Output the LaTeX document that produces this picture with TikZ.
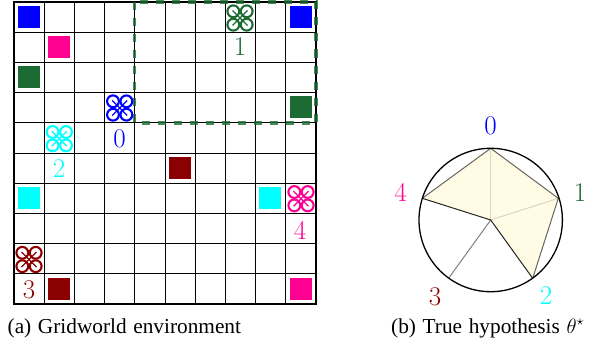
\documentclass[tikz,border=0pt]{standalone}
\usepackage{fontspec}
\setmainfont[WordSpace=1.25]{Liberation Serif}
\newfontfamily\lmfont{Latin Modern Roman}
\definecolor{agzero}{RGB}{0,0,255}
\definecolor{agone}{RGB}{27,107,51}
\definecolor{agtwo}{RGB}{0,255,255}
\definecolor{agthree}{RGB}{139,0,0}
\definecolor{agfour}{RGB}{255,0,144}
\definecolor{cream}{RGB}{255,251,228}
\tikzset{
  goalbox/.style={draw=none,minimum size=22pt,inner sep=0pt,fill=#1},
  numlabel/.style={text=#1,font=\lmfont\fontsize{27}{27}\selectfont,inner sep=0pt},
  captext/.style={font=\fontsize{21.3}{24}\selectfont,inner sep=0pt,anchor=base west},
  spoke/.style={line width=1pt,draw=black,draw opacity=#1},
}
\newcommand{\quadicon}[3]{%
  \begin{scope}[shift={(#1,#2)},draw=#3,line width=2.1pt]
    \foreach \sx in {-1,1}{\foreach \sy in {-1,1}{
      \draw (\sx*6.7,\sy*6.7) circle[radius=5.9];
      \draw[line width=1.3pt] (0,0) -- (\sx*7.5,\sy*7.5);
    }}
  \end{scope}}
\begin{document}
\begin{tikzpicture}[x=1pt,y=-1pt]
\useasboundingbox (0,0) rectangle (610,345);
% grid
\foreach \k in {1,...,9}{
  \draw[line width=1pt] ({14+30.2*\k},2) -- ({14+30.2*\k},304);
  \draw[line width=1pt] (14,{2+30.2*\k}) -- (316,{2+30.2*\k});
}
\draw[line width=2pt] (14,2) rectangle (316,304);
% goals
\node[goalbox=agzero] (g0a) at (29,17) {};
\node[goalbox=agzero] (g0b) at (301,17) {};
\node[goalbox=agfour] (g4a) at (59,47) {};
\node[goalbox=agfour] (g4b) at (301,289) {};
\node[goalbox=agone] (g1a) at (29,77) {};
\node[goalbox=agone] (g1b) at (301,107) {};
\node[goalbox=agthree] (g3a) at (180,168) {};
\node[goalbox=agthree] (g3b) at (59,289) {};
\node[goalbox=agtwo] (g2a) at (29,198) {};
\node[goalbox=agtwo] (g2b) at (270,198) {};
% dashed region
\draw[agone,opacity=.8,line width=3.5pt,dash pattern=on 8pt off 8pt] (134.5,2) rectangle (316,123);
% agents
\quadicon{119.7}{108}{agzero}
\quadicon{240}{18}{agone}
\quadicon{59.3}{138.7}{agtwo}
\quadicon{29}{259.5}{agthree}
\quadicon{301}{198.7}{agfour}
\node[numlabel=agzero] (a0) at (119.5,139) {0};
\node[numlabel=agone] (a1) at (240,47) {1};
\node[numlabel=agtwo] (a2) at (59,169) {2};
\node[numlabel=agthree] (a3) at (29,290) {3};
\node[numlabel=agfour] (a4) at (300,230) {4};
% hypothesis
\coordinate (c) at (490.7,220);
\coordinate (p0) at (490.7,148.3);
\coordinate (p1) at (558.3,198.3);
\coordinate (p2) at (532.7,278.3);
\coordinate (p3) at (449,277.7);
\coordinate (p4) at (422.3,198.3);
\fill[cream] (p0) -- (p1) -- (p2) -- (c) -- (p4) -- cycle;
\draw[spoke=.15] (c) -- (p0);
\draw[spoke=.15] (c) -- (p1);
\draw[spoke=.85] (c) -- (p2);
\draw[spoke=.5] (c) -- (p3);
\draw[spoke=.85] (c) -- (p4);
\draw[spoke=.6] (p0) -- (p1) -- (p2);
\draw[spoke=.6] (p0) -- (p4);
\draw[line width=1.3pt] (c) circle[radius=71.7];
\node[numlabel=agzero] (h0) at (490.5,125.5) {0};
\node[numlabel=agone] (h1) at (580,193) {1};
\node[numlabel=agtwo] (h2) at (546,296) {2};
\node[numlabel=agthree] (h3) at (435,296.5) {3};
\node[numlabel=agfour] (h4) at (400.5,192.5) {4};
% captions
\node[captext] (capa) at (7.5,333) {(a) Gridworld environment};
\node[captext] (capb) at (391,333) {(b) True hypothesis $\theta^{\star}$};
\end{tikzpicture}
\end{document}
